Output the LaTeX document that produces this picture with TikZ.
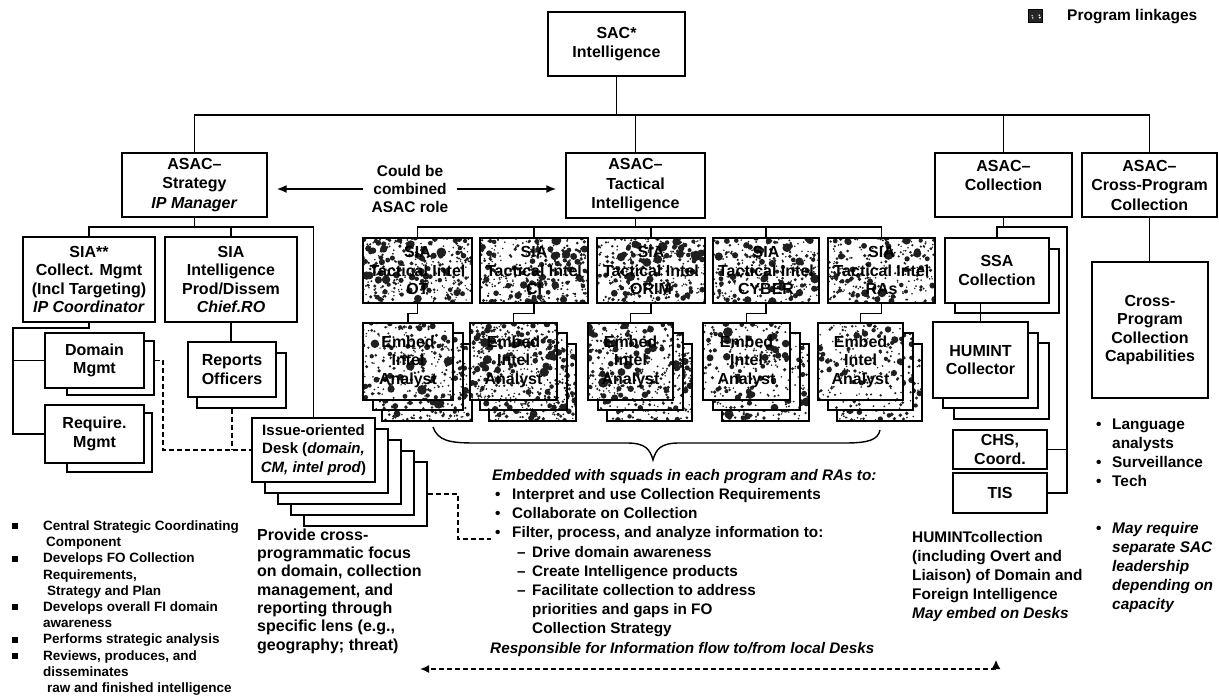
\documentclass[tikz,border=0pt]{standalone}
\usepackage{fontspec}
\setmainfont{Liberation Sans}
\usetikzlibrary{arrows.meta}

% type sizes (1pt = 1 unit of the drawing)
\newcommand\bxfont{\fontsize{16}{18.6}\selectfont\bfseries}
\newcommand\asacfont{\fontsize{16}{19.5}\selectfont\bfseries}
\newcommand\deskfont{\fontsize{15}{18.5}\selectfont\bfseries}
\newcommand\midfont{\fontsize{15.3}{19.2}\selectfont\bfseries}
\newcommand\leftfont{\fontsize{13.5}{16.2}\selectfont\bfseries}
\newcommand\provfont{\fontsize{16}{18.3}\selectfont\bfseries}
\newcommand\humfont{\fontsize{15.4}{19}\selectfont\bfseries}
\newcommand\legfont{\fontsize{15.5}{18}\selectfont\bfseries}

% random blotches inside the current path (stippled "program linkage" boxes)
\newcommand\speckle[2]{%
  \pgfpointanchor{path picture bounding box}{south west}%
  \pgfgetlastxy{\spkxa}{\spkya}%
  \pgfpointanchor{path picture bounding box}{north east}%
  \pgfgetlastxy{\spkxb}{\spkyb}%
  \pgfmathtruncatemacro\spkn{max(1,1.25*#1*((\spkxb-\spkxa)/100)*((\spkyb-\spkya)/10))}%
  \foreach \spkk in {1,...,\spkn}{%
    \pgfmathsetmacro\spkx{\spkxa+rnd*(\spkxb-\spkxa)}%
    \pgfmathsetmacro\spky{\spkya+rnd*(\spkyb-\spkya)}%
    \pgfmathsetmacro\spkr{0.8+5.2*rnd*rnd*rnd}%
    \fill[#2] (\spkx pt,\spky pt) circle[radius=\spkr pt];%
  }%
}

% box given by its corners: name, style, x1, y1, x2, y2, text
\newcommand\mkbox[7]{%
  \node[#2, minimum width={(#5-#3)*1pt}, minimum height={(#6-#4)*1pt}]
    (#1) at ({(#3+#5)/2},{(#4+#6)/2}) {#7};}

\tikzset{
  box/.style={draw, line width=1.4pt, fill=white, align=center, inner sep=1pt, font=\bxfont},
  asac/.style={box, font=\asacfont},
  linkage/.style={box, path picture={\speckle{#1}{black!88}}},
  legendbox/.style={draw, line width=1pt, fill=black!85, inner sep=0pt,
    path picture={\speckle{18}{white}}},
  link/.style={line width=1.3pt},
  dashlink/.style={line width=1.6pt, dash pattern=on 5pt off 3pt},
  arr/.style={line width=1.6pt, -{Latex[length=10pt,width=8pt]}},
  note/.style={align=left, inner sep=0pt, anchor=north west},
}

\begin{document}
\begin{tikzpicture}[x=1pt,y=-1pt]
\useasboundingbox[fill=white] (0,0) rectangle (1219,698);
\pgfmathsetseed{4242}

% ---------- top level ----------
\mkbox{sac}{asac}{548}{12}{685}{76}{SAC*\\Intelligence}
\mkbox{strat}{asac}{122}{153}{267}{217}{ASAC–\\Strategy\\\textit{IP Manager}}
\mkbox{tact}{asac}{566}{153}{705}{218}{ASAC–\\Tactical\\Intelligence}
\mkbox{coll}{asac}{935}{153}{1072}{217}{ASAC–\\Collection\\\mbox{}}
\mkbox{cross}{asac}{1082}{153}{1217}{217}{ASAC–\\Cross-Program\\Collection}

% legend
\mkbox{leg}{legendbox}{1028}{10}{1042}{23}{}
\node[anchor=west, inner sep=0pt, font=\legfont] (legtext) at (1067,17) {Program linkages};

% ---------- strategy branch ----------
\mkbox{sia1}{box}{23}{237}{155}{322}{SIA**\\Collect. Mgmt\\(Incl Targeting)\\\textit{IP Coordinator}}
\mkbox{sia2}{box}{165}{237}{297}{322}{SIA\\Intelligence\\Prod/Dissem\\\textit{Chief.RO}}

\mkbox{domB}{box}{67}{341}{154}{395}{}
\mkbox{dom}{box}{45}{333}{144}{388}{Domain\\Mgmt}
\mkbox{reqB}{box}{67}{413}{152}{472}{}
\mkbox{req}{box}{45}{405}{144}{463}{Require.\\Mgmt}
\mkbox{repB}{box}{197}{353}{286}{408}{}
\mkbox{rep}{box}{188}{342}{276}{397}{Reports\\Officers}

% stack of desks
\mkbox{desk4}{box}{304}{462}{427}{526}{}
\mkbox{desk3}{box}{291}{451}{414}{515}{}
\mkbox{desk2}{box}{278}{440}{401}{504}{}
\mkbox{desk1}{box}{265}{429}{388}{493}{}
\mkbox{desk}{box, font=\deskfont}{252}{418}{375}{482}{Issue-oriented\\Desk (\textit{domain,}\\\textit{CM, intel prod})}

% ---------- tactical branch ----------
\mkbox{tOT}{linkage=40}{363}{238}{472}{303}{SIA\\Tactical Intel\\OT}
\mkbox{tCI}{linkage=42}{480}{238}{588}{303}{SIA\\Tactical Intel\\CI}
\mkbox{tOR}{linkage=38}{597}{238}{705}{303}{SIA\\Tactical Intel\\ORIM}
\mkbox{tCY}{linkage=32}{713}{238}{819}{303}{SIA\\Tactical Intel\\CYBER}
\mkbox{tRA}{linkage=30}{828}{238}{935}{303}{SIA\\Tactical Intel\\RAs}

\mkbox{eOTb}{linkage=36}{382}{344}{472}{421}{}
\mkbox{eOTa}{linkage=32}{373}{333}{463}{410}{}
\mkbox{eOT}{linkage=28}{363}{323}{453}{400}{Embed\\Intel\\Analyst}
\mkbox{eCIb}{linkage=44}{489}{344}{576}{421}{}
\mkbox{eCIa}{linkage=42}{480}{333}{567}{410}{}
\mkbox{eCI}{linkage=40}{470}{323}{557}{400}{Embed\\Intel\\Analyst}
\mkbox{eORb}{linkage=36}{607}{344}{692}{421}{}
\mkbox{eORa}{linkage=32}{598}{333}{683}{410}{}
\mkbox{eOR}{linkage=30}{588}{323}{673}{400}{Embed\\Intel\\Analyst}
\mkbox{eCYb}{linkage=28}{722}{344}{809}{421}{}
\mkbox{eCYa}{linkage=18}{713}{333}{800}{410}{}
\mkbox{eCY}{linkage=22}{703}{323}{790}{400}{Embed\\Intel\\Analyst}
\mkbox{eRAb}{linkage=26}{837}{344}{922}{421}{}
\mkbox{eRAa}{linkage=14}{828}{333}{913}{410}{}
\mkbox{eRA}{linkage=20}{818}{323}{903}{400}{Embed\\Intel\\Analyst}

% ---------- collection branch ----------
\mkbox{ssaB}{box}{955}{249}{1059}{313}{}
\mkbox{ssa}{box}{945}{238}{1049}{303}{SSA\\Collection}
\mkbox{humB}{box}{954}{343}{1049}{419}{}
\mkbox{humA}{box}{943}{333}{1038}{408}{}
\mkbox{hum}{box}{933}{322}{1028}{398}{HUMINT\\Collector}
\mkbox{chs}{box}{953}{430}{1047}{469}{CHS,\\Coord.}
\mkbox{tis}{box}{953}{473}{1047}{513}{TIS}

% ---------- cross-program branch ----------
\mkbox{cap}{box}{1092}{262}{1208}{398}{Cross-\\Program\\Collection\\Capabilities}

% ---------- connectors ----------
\coordinate (topbus) at (0,115);
\draw[link] (sac.south) -- (sac.south |- topbus);
\draw[link] (strat.north) -- (strat.north |- topbus) -- (cross.north |- topbus) -- (cross.north);
\draw[link] (tact.north) -- (tact.north |- topbus);
\draw[link] (coll.north) -- (coll.north |- topbus);

\coordinate (sbus) at (0,227);
\draw[link] (strat.south) -- (strat.south |- sbus);
\draw[link] (sia1.north) |- (desk.north |- sbus) -- (desk.north);
\draw[link] (sia2.north) -- (sia2.north |- sbus);
\coordinate (lrail) at (13,328);
\draw[link] (sia1.south) |- (lrail) |- (req.west);
\draw[link] (lrail |- dom.west) -- (dom.west);
\draw[link] (sia2.south) -- (sia2.south |- rep.north);

\draw[link] (tact.south) -- (tact.south |- sbus);
\draw[link] (tOT.north) -- (tOT.north |- sbus) -- (tRA.north |- sbus) -- (tRA.north);
\foreach \t in {tCI,tOR,tCY} \draw[link] (\t.north) -- (\t.north |- sbus);
\foreach \t/\e in {tOT/eOT,tCI/eCI,tOR/eOR,tCY/eCY,tRA/eRA}
  \draw[link] (\t.south) -- ++(0,10) -| (\e.north);

\coordinate (crail) at (1067,227);
\draw[link] (coll.south) -- (coll.south |- crail);
\draw[link] (ssa.north) |- (crail) |- (tis.east);
\draw[link] (crail |- chs.east) -- (chs.east);
\draw[link] (hum.north |- ssa.south) -- (hum.north);
\draw[link] (cross.south) -- (cross.south |- cap.north);

% dashed information links
\coordinate (dj) at (163,0);
\draw[dashlink] (domB.east |- dom.east) -- (dj |- dom.east) -- (dj |- desk.west) -- (desk.west);
\draw[dashlink] (rep.south |- repB.south) -- (rep.south |- desk.west);
\coordinate (dk) at (458,0);
\coordinate (filterpt) at (491,539);
\draw[dashlink] (desk4.east) -- (dk |- desk4.east) -- (dk |- filterpt) -- (filterpt);

\coordinate (flowL) at (420,669);
\coordinate (flowR) at (996,669);
\draw[dashlink, -{Latex[length=9pt,width=8pt]}] (flowR) -- (flowL);
\draw[line width=1.4pt, -{Latex[length=9pt,width=9pt]}] (flowR) -- ++(0,-9);

% combined-role note with arrows
\node[align=center, inner xsep=8pt, inner ysep=0pt, font=\legfont] (combo) at (410,189)
  {Could be\\combined\\ASAC role};
\draw[arr, shorten >=9pt] (combo.west) -- (strat.east |- combo.west);
\draw[arr, shorten >=9pt] (combo.east) -- (tact.west |- combo.east);

% brace under the embedded analysts
\coordinate (brL) at (433,427);
\coordinate (brM) at (653,460);
\coordinate (brR) at (880,430);
\draw[line width=1.4pt] (brL) .. controls (438,441) and (450,443) .. (475,443)
  -- (627,443) .. controls (645,443) and (650,449) .. (brM)
  .. controls (656,449) and (661,443) .. (679,443)
  -- (845,443) .. controls (868,443) and (878,440) .. (brR);

% ---------- notes ----------
\node[note, font=\leftfont] (leftnote) at (10,520.5) {%
  \hspace*{2pt}\makebox[31pt][l]{\rule[1pt]{5.5pt}{6pt}}Central Strategic Coordinating\\
  \hspace*{36pt}Component\\
  \hspace*{2pt}\makebox[31pt][l]{\rule[1pt]{5.5pt}{6pt}}Develops FO Collection\\
  \hspace*{33pt}Requirements,\\
  \hspace*{37pt}Strategy and Plan\\
  \hspace*{2pt}\makebox[31pt][l]{\rule[1pt]{5.5pt}{6pt}}Develops overall FI domain\\
  \hspace*{33pt}awareness\\
  \hspace*{2pt}\makebox[31pt][l]{\rule[1pt]{5.5pt}{6pt}}Performs strategic analysis\\
  \hspace*{2pt}\makebox[31pt][l]{\rule[1pt]{5.5pt}{6pt}}Reviews, produces, and\\
  \hspace*{33pt}disseminates\\
  \hspace*{37pt}raw and finished intelligence};

\node[note, font=\provfont] (provnote) at (257,528.5) {%
  Provide cross-\\programmatic focus\\on domain, collection\\management, and\\
  reporting through\\specific lens (e.g.,\\geography; threat)};

\node[note, font=\midfont] (midnote) at (490,469) {%
  \hspace*{2pt}\textit{Embedded with squads in each program and RAs to:}\\
  \hspace*{5pt}\makebox[17pt][l]{•}Interpret and use Collection Requirements\\
  \hspace*{5pt}\makebox[17pt][l]{•}Collaborate on Collection\\
  \hspace*{5pt}\makebox[17pt][l]{•}Filter, process, and analyze information to:\\
  \hspace*{27pt}\makebox[15pt][l]{–}Drive domain awareness\\
  \hspace*{27pt}\makebox[15pt][l]{–}Create Intelligence products\\
  \hspace*{27pt}\makebox[15pt][l]{–}Facilitate collection to address\\
  \hspace*{42pt}priorities and gaps in FO\\
  \hspace*{42pt}Collection Strategy\\
  \textit{Responsible for Information flow to/from local Desks}};

\node[note, font=\humfont] (humnote) at (912,531) {%
  HUMINTcollection\\(including Overt and\\Liaison) of Domain and\\
  Foreign Intelligence\\\textit{May embed on Desks}};

\node[note, font=\humfont] (capnote) at (1096,419) {%
  \makebox[16pt][l]{•}Language\\
  \hspace*{16pt}analysts\\
  \makebox[16pt][l]{•}Surveillance\\
  \makebox[16pt][l]{•}Tech\\[28pt]
  \makebox[16pt][l]{•}\textit{May require}\\
  \hspace*{16pt}\textit{separate SAC}\\
  \hspace*{16pt}\textit{leadership}\\
  \hspace*{16pt}\textit{depending on}\\
  \hspace*{16pt}\textit{capacity}};
\end{tikzpicture}
\end{document}
